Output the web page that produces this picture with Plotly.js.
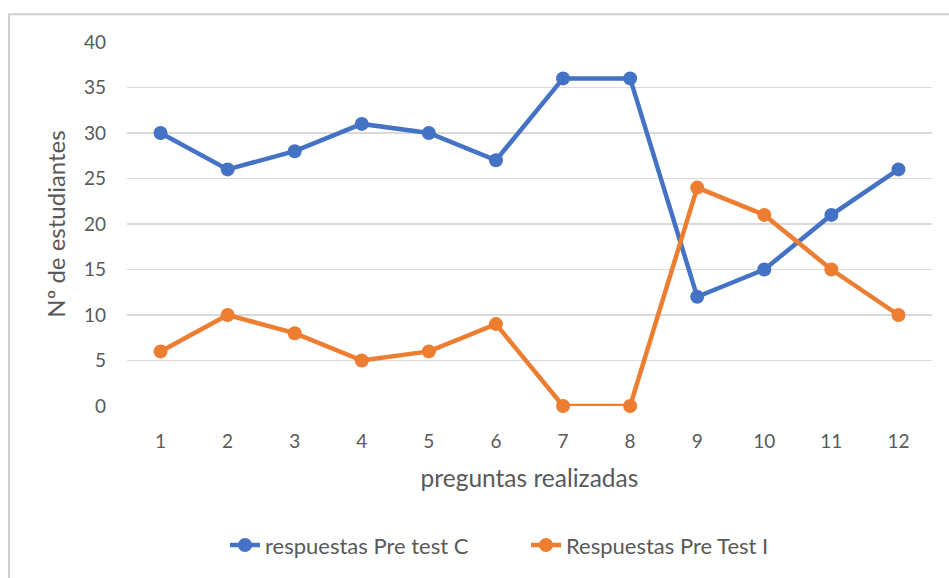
<!DOCTYPE html>
<html>
<head>
<meta charset="utf-8">
<script src="https://cdn.plot.ly/plotly-3.0.1.min.js"></script>
<style>html,body{margin:0;padding:0;background:#fff;}#chart{width:949px;height:578px;}</style>
</head>
<body>
<div id="chart"></div>
<script>
var categories = ["1","2","3","4","5","6","7","8","9","10","11","12"];
var seriesC = [30,26,28,31,30,27,36,36,12,15,21,26];
var seriesI = [6,10,8,5,6,9,0,0,24,21,15,10];
var nameC = "respuestas Pre test C";
var nameI = "Respuestas Pre Test I";
var yTicks = [0,5,10,15,20,25,30,35,40];

var W = 949, H = 578;
var m = {l:127, r:17, t:42, b:170};
var pw = W - m.l - m.r, ph = H - m.t - m.b;

var traces = [
  {x: categories, y: seriesC, name: nameC, type: 'scatter', mode: 'lines+markers', cliponaxis: false,
   line: {color: '#4472C4', width: 4.5}, marker: {color: '#4472C4', size: 14}},
  {x: categories, y: seriesI, name: nameI, type: 'scatter', mode: 'lines+markers', cliponaxis: false,
   line: {color: '#ED7D31', width: 4.5}, marker: {color: '#ED7D31', size: 14}}
];

var fam = 'Lato, "Open Sans", sans-serif';
var col = '#595959';

var layout = {
  width: W, height: H,
  margin: m,
  paper_bgcolor: '#fff', plot_bgcolor: '#fff',
  showlegend: true,
  font: {family: fam, color: col},
  xaxis: {
    type: 'category', range: [-0.5, 11.5],
    showgrid: false, zeroline: false, showline: false,
    ticks: '', ticklabelstandoff: 22,
    tickfont: {family: fam, color: col, size: 19},
    title: {text: 'preguntas realizadas', font: {family: fam, color: col, size: 24.5}, standoff: 18}
  },
  yaxis: {
    range: [0, 40], tickvals: yTicks, ticktext: yTicks.map(String),
    showgrid: true, gridcolor: '#d9d9d9', gridwidth: 1.5,
    zeroline: false, showline: false, ticks: '', ticklabelstandoff: 20,
    tickfont: {family: fam, color: col, size: 19},
    title: {text: 'Nº de estudiantes', font: {family: fam, color: col, size: 24}, standoff: 11}
  },
  legend: {
    orientation: 'h', x: (225 - m.l) / pw, xanchor: 'left',
    y: (H - m.b - 548) / ph, yanchor: 'middle',
    font: {family: fam, color: col, size: 22},
    entrywidth: 256, bgcolor: 'rgba(0,0,0,0)'
  },
  shapes: [{
    type: 'rect', xref: 'paper', yref: 'paper',
    x0: (9 - m.l) / pw, x1: (W + 5 - m.l) / pw,
    y0: (H - m.b - (H + 5)) / ph, y1: (H - m.b - 14) / ph,
    line: {color: '#d0d0d0', width: 2}, fillcolor: 'rgba(0,0,0,0)', layer: 'below'
  }]
};

Plotly.newPlot('chart', traces, layout, {displayModeBar: false, staticPlot: true});
</script>
</body>
</html>
